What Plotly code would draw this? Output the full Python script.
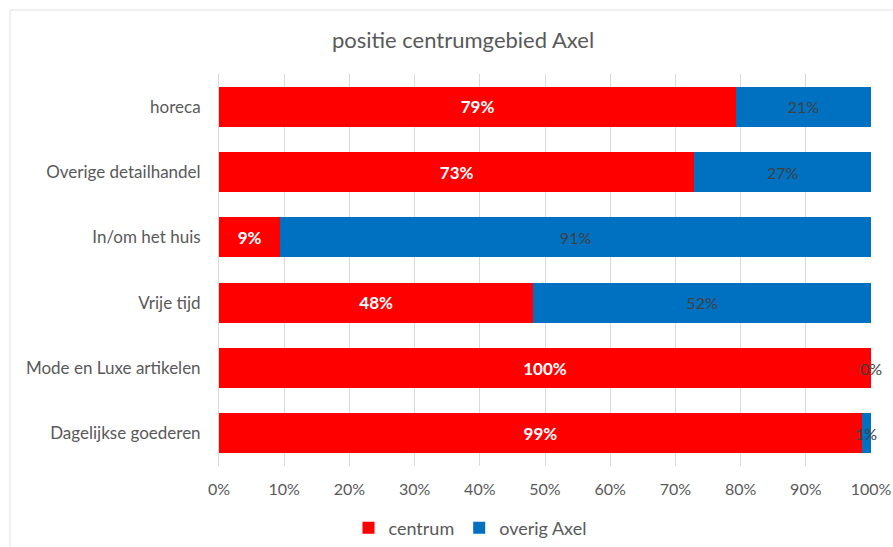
import plotly.graph_objects as go

categories = ["Dagelijkse goederen", "Mode en Luxe artikelen", "Vrije tijd",
              "In/om het huis", "Overige detailhandel", "horeca"]
centrum = [98.6, 100.0, 48.2, 9.4, 72.9, 79.3]
overig = [1.4, 0.0, 51.8, 90.6, 27.1, 20.7]
x_ticks = [0, 10, 20, 30, 40, 50, 60, 70, 80, 90, 100]
x_tick_labels = [f"{v}%" for v in x_ticks]

FONT = "Lato, 'Open Sans', sans-serif"
GRAY = "#595959"

W, H = 893, 547
L, R, T, B = 219, 22, 74, 81
pw, ph = W - L - R, H - T - B

def px_x(p):
    return (p - L) / pw

def px_y(p):
    return (H - B - p) / ph

fig = go.Figure()
fig.add_trace(go.Bar(
    y=categories, x=centrum, orientation="h", name="centrum",
    marker=dict(color="#FF0000", line=dict(width=0)),
    texttemplate="<b>%{x:.0f}%</b>", textposition="inside", textangle=0,
    insidetextanchor="middle", constraintext="none",
    insidetextfont=dict(color="white", size=17, family=FONT),
    hoverinfo="skip",
))
big_text = [f"{v:.0f}%" if v >= 3 else "" for v in overig]
fig.add_trace(go.Bar(
    y=categories, x=overig, orientation="h", name="overig Axel",
    marker=dict(color="#0070C0", line=dict(width=0)),
    text=big_text, texttemplate="%{text}", textposition="inside", textangle=0,
    insidetextanchor="middle", constraintext="none",
    insidetextfont=dict(color="#404040", size=16, family=FONT),
    hoverinfo="skip",
))

annotations = []
for cat, c, o in zip(categories, centrum, overig):
    if o < 3:
        annotations.append(dict(
            x=c + o / 2, y=cat, xref="x", yref="y", text=f"{o:.0f}%",
            showarrow=False, font=dict(color="#404040", size=16, family=FONT),
            xanchor="center", yanchor="middle",
        ))

fig.update_layout(
    width=W, height=H,
    barmode="stack", bargap=0.385,
    paper_bgcolor="white", plot_bgcolor="white",
    margin=dict(l=L, r=R, t=T, b=B, pad=0, autoexpand=False),
    title=dict(text="positie centrumgebied Axel", xref="container", x=463 / W,
               xanchor="center", y=1 - 40 / H, yanchor="middle",
               font=dict(family=FONT, size=22, color=GRAY)),
    xaxis=dict(range=[0, 100], tickvals=x_ticks, ticktext=x_tick_labels,
               showgrid=True, gridcolor="#D9D9D9", gridwidth=1,
               zeroline=False, showline=False, ticks="", automargin=False,
               ticklabelstandoff=12,
               tickfont=dict(family=FONT, size=16, color=GRAY),
               fixedrange=True),
    yaxis=dict(showgrid=False, zeroline=False, showline=True, linecolor="#D9D9D9",
               ticks="", ticklabelstandoff=14, automargin=False,
               tickfont=dict(family=FONT, size=17, color=GRAY),
               fixedrange=True),
    legend=dict(orientation="h", xref="paper", x=px_x(470), xanchor="center",
                y=px_y(528), yanchor="middle",
                font=dict(family=FONT, size=18, color=GRAY),
                itemwidth=30, traceorder="normal"),
    annotations=annotations,
    shapes=[dict(type="rect", xref="paper", yref="paper",
                 x0=px_x(10), x1=px_x(W + 5), y0=px_y(H + 5), y1=px_y(10),
                 line=dict(color="#E0E0E0", width=1), fillcolor="rgba(0,0,0,0)",
                 layer="below")],
    showlegend=True,
)

fig.write_html("out.html")
